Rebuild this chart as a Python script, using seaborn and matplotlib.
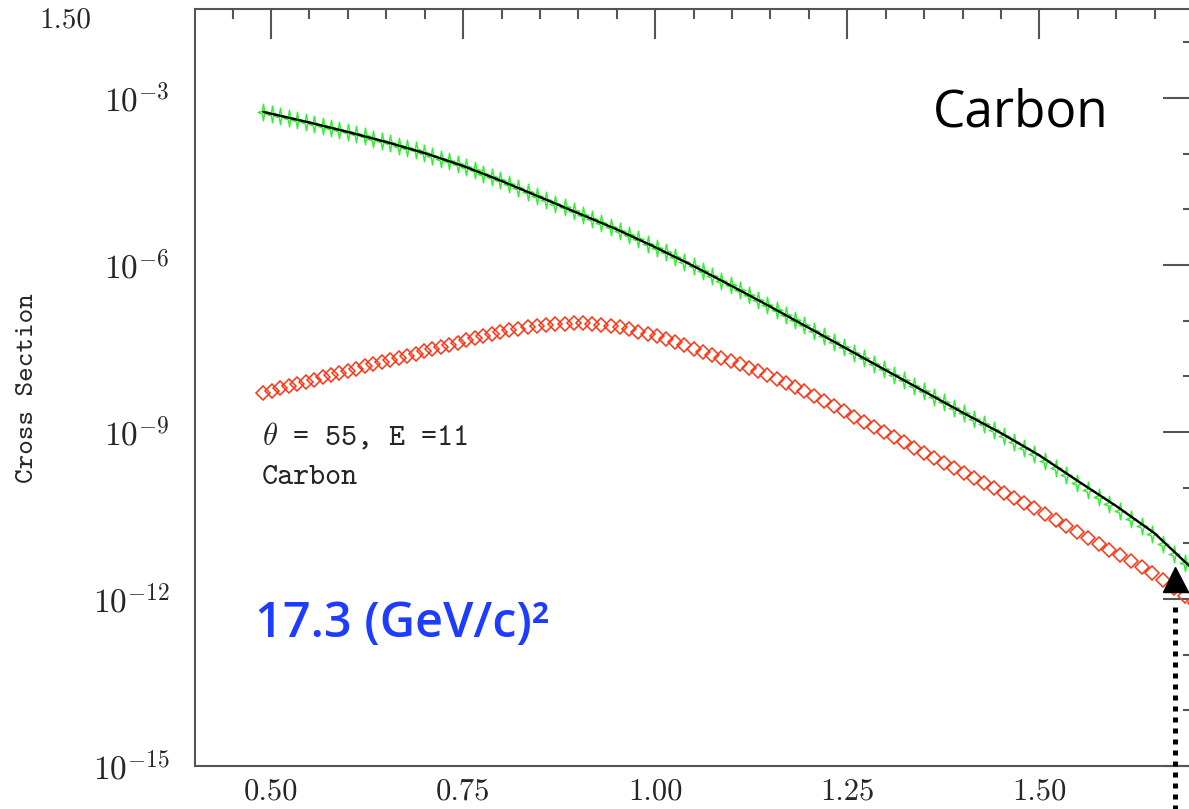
import numpy as np
import matplotlib
matplotlib.use("Agg")
import matplotlib.pyplot as plt
import matplotlib.transforms as mtransforms
from matplotlib.path import Path
from matplotlib.ticker import FixedLocator, MultipleLocator, NullFormatter
import seaborn as sns

# === Data ===
# x positions of the calculated points (same grid for both point series)
x_pts = [0.490, 0.501, 0.512, 0.523, 0.534, 0.545, 0.556, 0.567, 0.578, 0.589,
         0.600, 0.611, 0.622, 0.633, 0.644, 0.655, 0.666, 0.677, 0.688, 0.699,
         0.710, 0.721, 0.732, 0.743, 0.754, 0.765, 0.776, 0.787, 0.798,
         0.810, 0.822, 0.834, 0.846, 0.858, 0.870, 0.882, 0.894, 0.906, 0.918,
         0.930, 0.942, 0.954, 0.966, 0.978, 0.990, 1.002, 1.014, 1.026, 1.038,
         1.050, 1.062, 1.074, 1.086, 1.098, 1.110, 1.122, 1.134, 1.146, 1.158,
         1.170, 1.182, 1.194,
         1.207, 1.220, 1.233, 1.246, 1.259, 1.272, 1.285, 1.298, 1.311, 1.324,
         1.337, 1.350, 1.363, 1.376, 1.389, 1.402, 1.415, 1.428, 1.441, 1.454,
         1.467, 1.480, 1.493,
         1.507, 1.521, 1.535, 1.549, 1.563, 1.577, 1.591, 1.605, 1.619, 1.633,
         1.647, 1.661, 1.675, 1.689, 1.703, 1.717]

# log10 of the cross section, green stars
log_green = [-3.250, -3.283, -3.318, -3.354, -3.389, -3.424, -3.460, -3.498, -3.535, -3.573,
             -3.610, -3.650, -3.689, -3.729, -3.768, -3.810, -3.854, -3.898, -3.942, -3.986,
             -4.036, -4.087, -4.137, -4.188, -4.242, -4.301, -4.360, -4.420, -4.479,
             -4.548, -4.618, -4.687, -4.757, -4.826, -4.896, -4.966, -5.035, -5.105, -5.174,
             -5.244, -5.314, -5.386, -5.462, -5.539, -5.616, -5.694, -5.775, -5.857, -5.938,
             -6.020, -6.106, -6.193, -6.279, -6.366, -6.454, -6.543, -6.632, -6.720, -6.811,
             -6.902, -6.993, -7.084,
             -7.183, -7.282, -7.381, -7.480, -7.578, -7.677, -7.776, -7.875, -7.974, -8.072,
             -8.171, -8.270, -8.369, -8.468, -8.566, -8.665, -8.764, -8.863, -8.962, -9.064,
             -9.173, -9.282, -9.391,
             -9.516, -9.647, -9.779, -9.911, -10.040, -10.168, -10.297, -10.428, -10.562, -10.697,
             -10.831, -11.020, -11.190, -11.360, -11.530, -11.700]

# log10 of the cross section, red diamonds
log_red = [-8.300, -8.256, -8.217, -8.177, -8.138, -8.098, -8.058, -8.019, -7.979, -7.940,
           -7.900, -7.860, -7.821, -7.781, -7.742, -7.703, -7.666, -7.628, -7.591, -7.553,
           -7.514, -7.474, -7.435, -7.395, -7.356, -7.319, -7.282, -7.244, -7.207,
           -7.176, -7.147, -7.118, -7.090, -7.074, -7.064, -7.054, -7.045, -7.047, -7.062,
           -7.076, -7.090, -7.114, -7.154, -7.195, -7.236, -7.279, -7.334, -7.390, -7.445,
           -7.500, -7.555, -7.610, -7.666, -7.721, -7.782, -7.844, -7.907, -7.969, -8.040,
           -8.114, -8.188, -8.263,
           -8.350, -8.444, -8.538, -8.631, -8.725, -8.818, -8.912, -9.006, -9.097, -9.188,
           -9.279, -9.370, -9.461, -9.552, -9.643, -9.734, -9.822, -9.910, -9.999, -10.089,
           -10.182, -10.276, -10.370,
           -10.473, -10.580, -10.686, -10.792, -10.899, -11.005, -11.112, -11.217, -11.321, -11.424,
           -11.528, -11.660, -11.800, -11.940, -12.068, -12.152]

# black total curve
x_line = [0.49, 0.55, 0.60, 0.65, 0.70, 0.75, 0.80, 0.85, 0.90, 0.95, 1.00, 1.05, 1.10,
          1.15, 1.20, 1.25, 1.30, 1.35, 1.40, 1.45, 1.50, 1.55, 1.60, 1.65, 1.70, 1.72]
log_line = [-3.25, -3.44, -3.61, -3.79, -3.99, -4.22, -4.49, -4.78, -5.07, -5.36, -5.68, -6.02, -6.38,
            -6.75, -7.13, -7.51, -7.89, -8.27, -8.65, -9.02, -9.42, -9.88, -10.33, -10.82, -11.47, -11.72]

xtick_vals = [0.50, 0.75, 1.00, 1.25, 1.50]
xtick_labels = ["0.50", "0.75", "1.00", "1.25", "1.50"]
ytick_exps = [-15, -12, -9, -6, -3]

arrow_x = 1.676
arrow_log = -11.65

# === Style ===
sns.set_style("white")
plt.rcParams["mathtext.fontset"] = "cm"
plt.rcParams["axes.unicode_minus"] = False

green = "#2ef02e"
red = "#ff3414"
blue = "#1e3cff"
gray = "#555555"

# four-pointed star with concave sides, taller than wide
star = Path([(0, 1), (0.14, 0.16), (0.65, 0), (0.14, -0.16), (0, -1),
             (-0.14, -0.16), (-0.65, 0), (-0.14, 0.16), (0, 1)],
            [Path.MOVETO] + [Path.LINETO] * 7 + [Path.CLOSEPOLY])

fig = plt.figure(figsize=(11.89, 8.09), dpi=100)
ax = fig.add_axes([0.164, 0.0532, 0.8394, 0.9357])

sns.lineplot(x=x_pts, y=10.0 ** np.array(log_green), ax=ax, linestyle="", marker=star,
             markersize=12, markerfacecolor="none", markeredgecolor=green, markeredgewidth=1.0,
             color=green, zorder=2)
sns.lineplot(x=x_line, y=10.0 ** np.array(log_line), ax=ax, color="black", linewidth=1.7, zorder=3)
sns.lineplot(x=x_pts, y=10.0 ** np.array(log_red), ax=ax, linestyle="", marker="D",
             markersize=7, markerfacecolor="none", markeredgecolor=red, markeredgewidth=1.1,
             color=red, zorder=2)

# arrow marking the end point
ax.plot([arrow_x], [10.0 ** arrow_log], marker="^", markersize=18, color="black", zorder=5)
trans = mtransforms.blended_transform_factory(ax.transData, ax.transAxes)
ax.plot([arrow_x, arrow_x], [-0.06, 0.215], transform=trans, color="black", lw=3.6,
        linestyle=(0, (1, 1.2)), clip_on=False, zorder=5)

# === Axes ===
ax.set_yscale("log")
ax.set_xlim(0.401, 1.700)
ax.set_ylim(1e-15, 10 ** -1.40)

ax.set_xticks(xtick_vals)
ax.set_xticklabels(xtick_labels, fontfamily="cmr10", fontsize=22)
ax.xaxis.set_minor_locator(MultipleLocator(0.05))

ax.yaxis.set_major_locator(FixedLocator([10.0 ** e for e in ytick_exps]))
ax.set_yticklabels([r"$10^{%d}$" % e for e in ytick_exps], fontsize=24)
ax.yaxis.set_minor_locator(FixedLocator([10.0 ** e for e in range(-15, -1) if e % 3 != 0]))
ax.yaxis.set_minor_formatter(NullFormatter())

ax.tick_params(which="both", direction="in", top=True, right=True, color=gray, width=1.5)
ax.tick_params(which="major", length=21.5)
ax.tick_params(which="minor", length=7.2)
ax.tick_params(axis="x", which="major", pad=9)
ax.tick_params(axis="y", which="major", pad=18)
for spine in ax.spines.values():
    spine.set_color(gray)
    spine.set_linewidth(1.5)
ax.set_xlabel("")
ax.set_ylabel("")

# === Text ===
fig.text(0.0235, 0.52, "Cross Section", rotation=90, ha="center", va="center",
         fontfamily="cmtt10", fontsize=20)
fig.text(0.0547, 0.975, "1.50", ha="center", va="center", fontfamily="cmr10", fontsize=21)
ax.text(0.488, 10 ** -9.08, r"$\theta$ = 55, E =11", fontfamily="cmtt10", fontsize=22,
        ha="left", va="center")
ax.text(0.488, 10 ** -9.83, "Carbon", fontfamily="cmtt10", fontsize=22, ha="left", va="center")
ax.text(1.362, 10 ** -3.27, "Carbon", fontfamily="Open Sans", fontsize=37, color="black",
        ha="left", va="center")
ax.text(0.479, 10 ** -12.45, "17.3 (GeV/c)²", fontfamily="Open Sans", fontsize=35,
        fontweight="semibold", color=blue, ha="left", va="center")

fig.savefig("out.png", dpi=100)
